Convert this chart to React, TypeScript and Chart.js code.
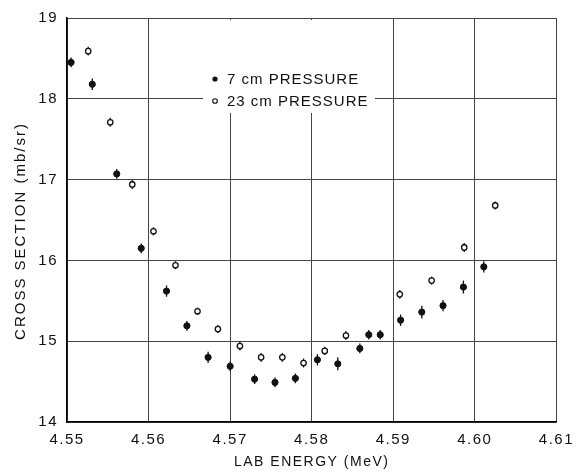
import React, { useEffect, useRef } from "react";
import { Chart, registerables } from "chart.js";

Chart.register(...registerables);

// Tick values
const xTickValues = [4.55, 4.56, 4.57, 4.58, 4.59, 4.6, 4.61];
const yTickValues = [14, 15, 16, 17, 18, 19];

// 7 cm pressure (filled circles)
const filledX = [4.5505, 4.5531, 4.5561, 4.5591, 4.5622, 4.5647, 4.5673, 4.57, 4.573, 4.5755, 4.578, 4.5807, 4.5832, 4.5859, 4.587, 4.5884, 4.5909, 4.5935, 4.5961, 4.5986, 4.6011];
const filledY = [18.45, 18.18, 17.07, 16.15, 15.62, 15.19, 14.8, 14.69, 14.53, 14.49, 14.54, 14.77, 14.72, 14.91, 15.08, 15.08, 15.26, 15.36, 15.44, 15.67, 15.92];
const filledErr = [0.06, 0.07, 0.06, 0.06, 0.07, 0.06, 0.07, 0.06, 0.06, 0.06, 0.06, 0.07, 0.08, 0.06, 0.06, 0.06, 0.07, 0.08, 0.07, 0.08, 0.07];

// 23 cm pressure (open circles)
const openX = [4.5526, 4.5553, 4.558, 4.5606, 4.5633, 4.566, 4.5685, 4.5712, 4.5738, 4.5764, 4.579, 4.5816, 4.5842, 4.5908, 4.5947, 4.5987, 4.6025];
const openY = [18.59, 17.71, 16.94, 16.36, 15.94, 15.37, 15.15, 14.94, 14.8, 14.8, 14.73, 14.88, 15.07, 15.58, 15.75, 16.16, 16.68];
const openErr = [0.055, 0.055, 0.055, 0.05, 0.05, 0.045, 0.05, 0.055, 0.055, 0.055, 0.055, 0.05, 0.055, 0.055, 0.05, 0.055, 0.05];

const legendLabels = ["7 cm PRESSURE", "23 cm PRESSURE"];
const xTitle = "LAB ENERGY (MeV)";
const yTitle = "CROSS SECTION (mb/sr)";

const FONT = "'Liberation Sans', Arial, sans-serif";
const INK = "#111";

const spacingPlugin = {
  id: "spacing",
  beforeDraw(chart: any) {
    chart.ctx.letterSpacing = "1.5px";
  },
};

const errorBarPlugin = {
  id: "errorBars",
  beforeDatasetsDraw(chart: any) {
    const ctx = chart.ctx;
    const xs = chart.scales.x;
    const ys = chart.scales.y;
    ctx.save();
    ctx.strokeStyle = INK;
    ctx.lineWidth = 1.3;
    chart.data.datasets.forEach((ds: any) => {
      ds.data.forEach((p: any) => {
        const px = xs.getPixelForValue(p.x);
        ctx.beginPath();
        ctx.moveTo(px, ys.getPixelForValue(p.y + p.e));
        ctx.lineTo(px, ys.getPixelForValue(p.y - p.e));
        ctx.stroke();
      });
    });
    ctx.restore();
  },
};

const overlayPlugin = {
  id: "overlay",
  afterDraw(chart: any) {
    const ctx = chart.ctx;
    ctx.save();
    // legend box blanking the grid
    ctx.fillStyle = "#fff";
    ctx.fillRect(203, 20, 172, 93);
    ctx.fillStyle = INK;
    ctx.strokeStyle = INK;
    ctx.font = `15px ${FONT}`;
    ctx.letterSpacing = "1px";
    ctx.textAlign = "left";
    ctx.textBaseline = "middle";
    // row 1
    ctx.beginPath();
    ctx.arc(215, 79, 2.6, 0, Math.PI * 2);
    ctx.fill();
    ctx.fillText(legendLabels[0], 227, 80);
    // row 2
    ctx.beginPath();
    ctx.lineWidth = 1.1;
    ctx.arc(215, 101, 2.3, 0, Math.PI * 2);
    ctx.stroke();
    ctx.fillText(legendLabels[1], 227, 102);
    // y title
    ctx.translate(21, 231);
    ctx.rotate(-Math.PI / 2);
    ctx.textAlign = "center";
    ctx.letterSpacing = "2px";
    ctx.fillText(yTitle, 0, 0);
    ctx.restore();
  },
};

export default function App() {
  const ref = useRef<HTMLCanvasElement | null>(null);
  useEffect(() => {
    if (!ref.current) return;
    const chart = new Chart(ref.current, {
      type: "scatter",
      data: {
        datasets: [
          {
            label: legendLabels[0],
            data: filledX.map((x, i) => ({ x, y: filledY[i], e: filledErr[i] })),
            pointStyle: "circle",
            pointRadius: 3.1,
            pointBackgroundColor: INK,
            pointBorderColor: INK,
            pointBorderWidth: 1,
          },
          {
            label: legendLabels[1],
            data: openX.map((x, i) => ({ x, y: openY[i], e: openErr[i] })),
            pointStyle: "circle",
            pointRadius: 2.7,
            pointBackgroundColor: "#fff",
            pointBorderColor: INK,
            pointBorderWidth: 1.3,
          },
        ] as any,
      },
      options: {
        animation: false,
        responsive: false,
        layout: { padding: { top: 11, right: 18, left: 0, bottom: 0 } },
        plugins: { legend: { display: false }, tooltip: { enabled: false } },
        scales: {
          x: {
            type: "linear",
            min: 4.55,
            max: 4.61,
            afterBuildTicks: (s: any) => {
              s.ticks = xTickValues.map((v) => ({ value: v }));
            },
            afterFit: (s: any) => {
              s.height = 52;
            },
            grid: { color: "#444", lineWidth: 1, drawTicks: false },
            border: { display: true, color: "#000", width: 1.5 },
            ticks: {
              padding: 9,
              color: INK,
              font: { family: FONT, size: 15 },
              maxRotation: 0,
              autoSkip: false,
              callback: (v: any) => Number(v).toFixed(2),
            },
            title: {
              display: true,
              text: xTitle,
              color: INK,
              font: { family: FONT, size: 14 },
              padding: { top: 0, bottom: 3 },
            },
          },
          y: {
            type: "linear",
            min: 14,
            max: 19,
            afterBuildTicks: (s: any) => {
              s.ticks = yTickValues.map((v) => ({ value: v }));
            },
            afterFit: (s: any) => {
              s.width = 67;
            },
            grid: { color: "#444", lineWidth: 1, drawTicks: false },
            border: { display: true, color: "#000", width: 1.5 },
            ticks: {
              padding: 9,
              color: INK,
              font: { family: FONT, size: 15 },
              callback: (v: any) => String(v),
            },
          },
        },
      } as any,
      plugins: [spacingPlugin, errorBarPlugin, overlayPlugin],
    });
    return () => chart.destroy();
  }, []);
  return (
    <div style={{ position: "absolute", left: 0, top: 0, width: 580, height: 474, background: "#fff" }}>
      <canvas ref={ref} width={580} height={474} style={{ width: 580, height: 474, display: "block" }} />
    </div>
  );
}
